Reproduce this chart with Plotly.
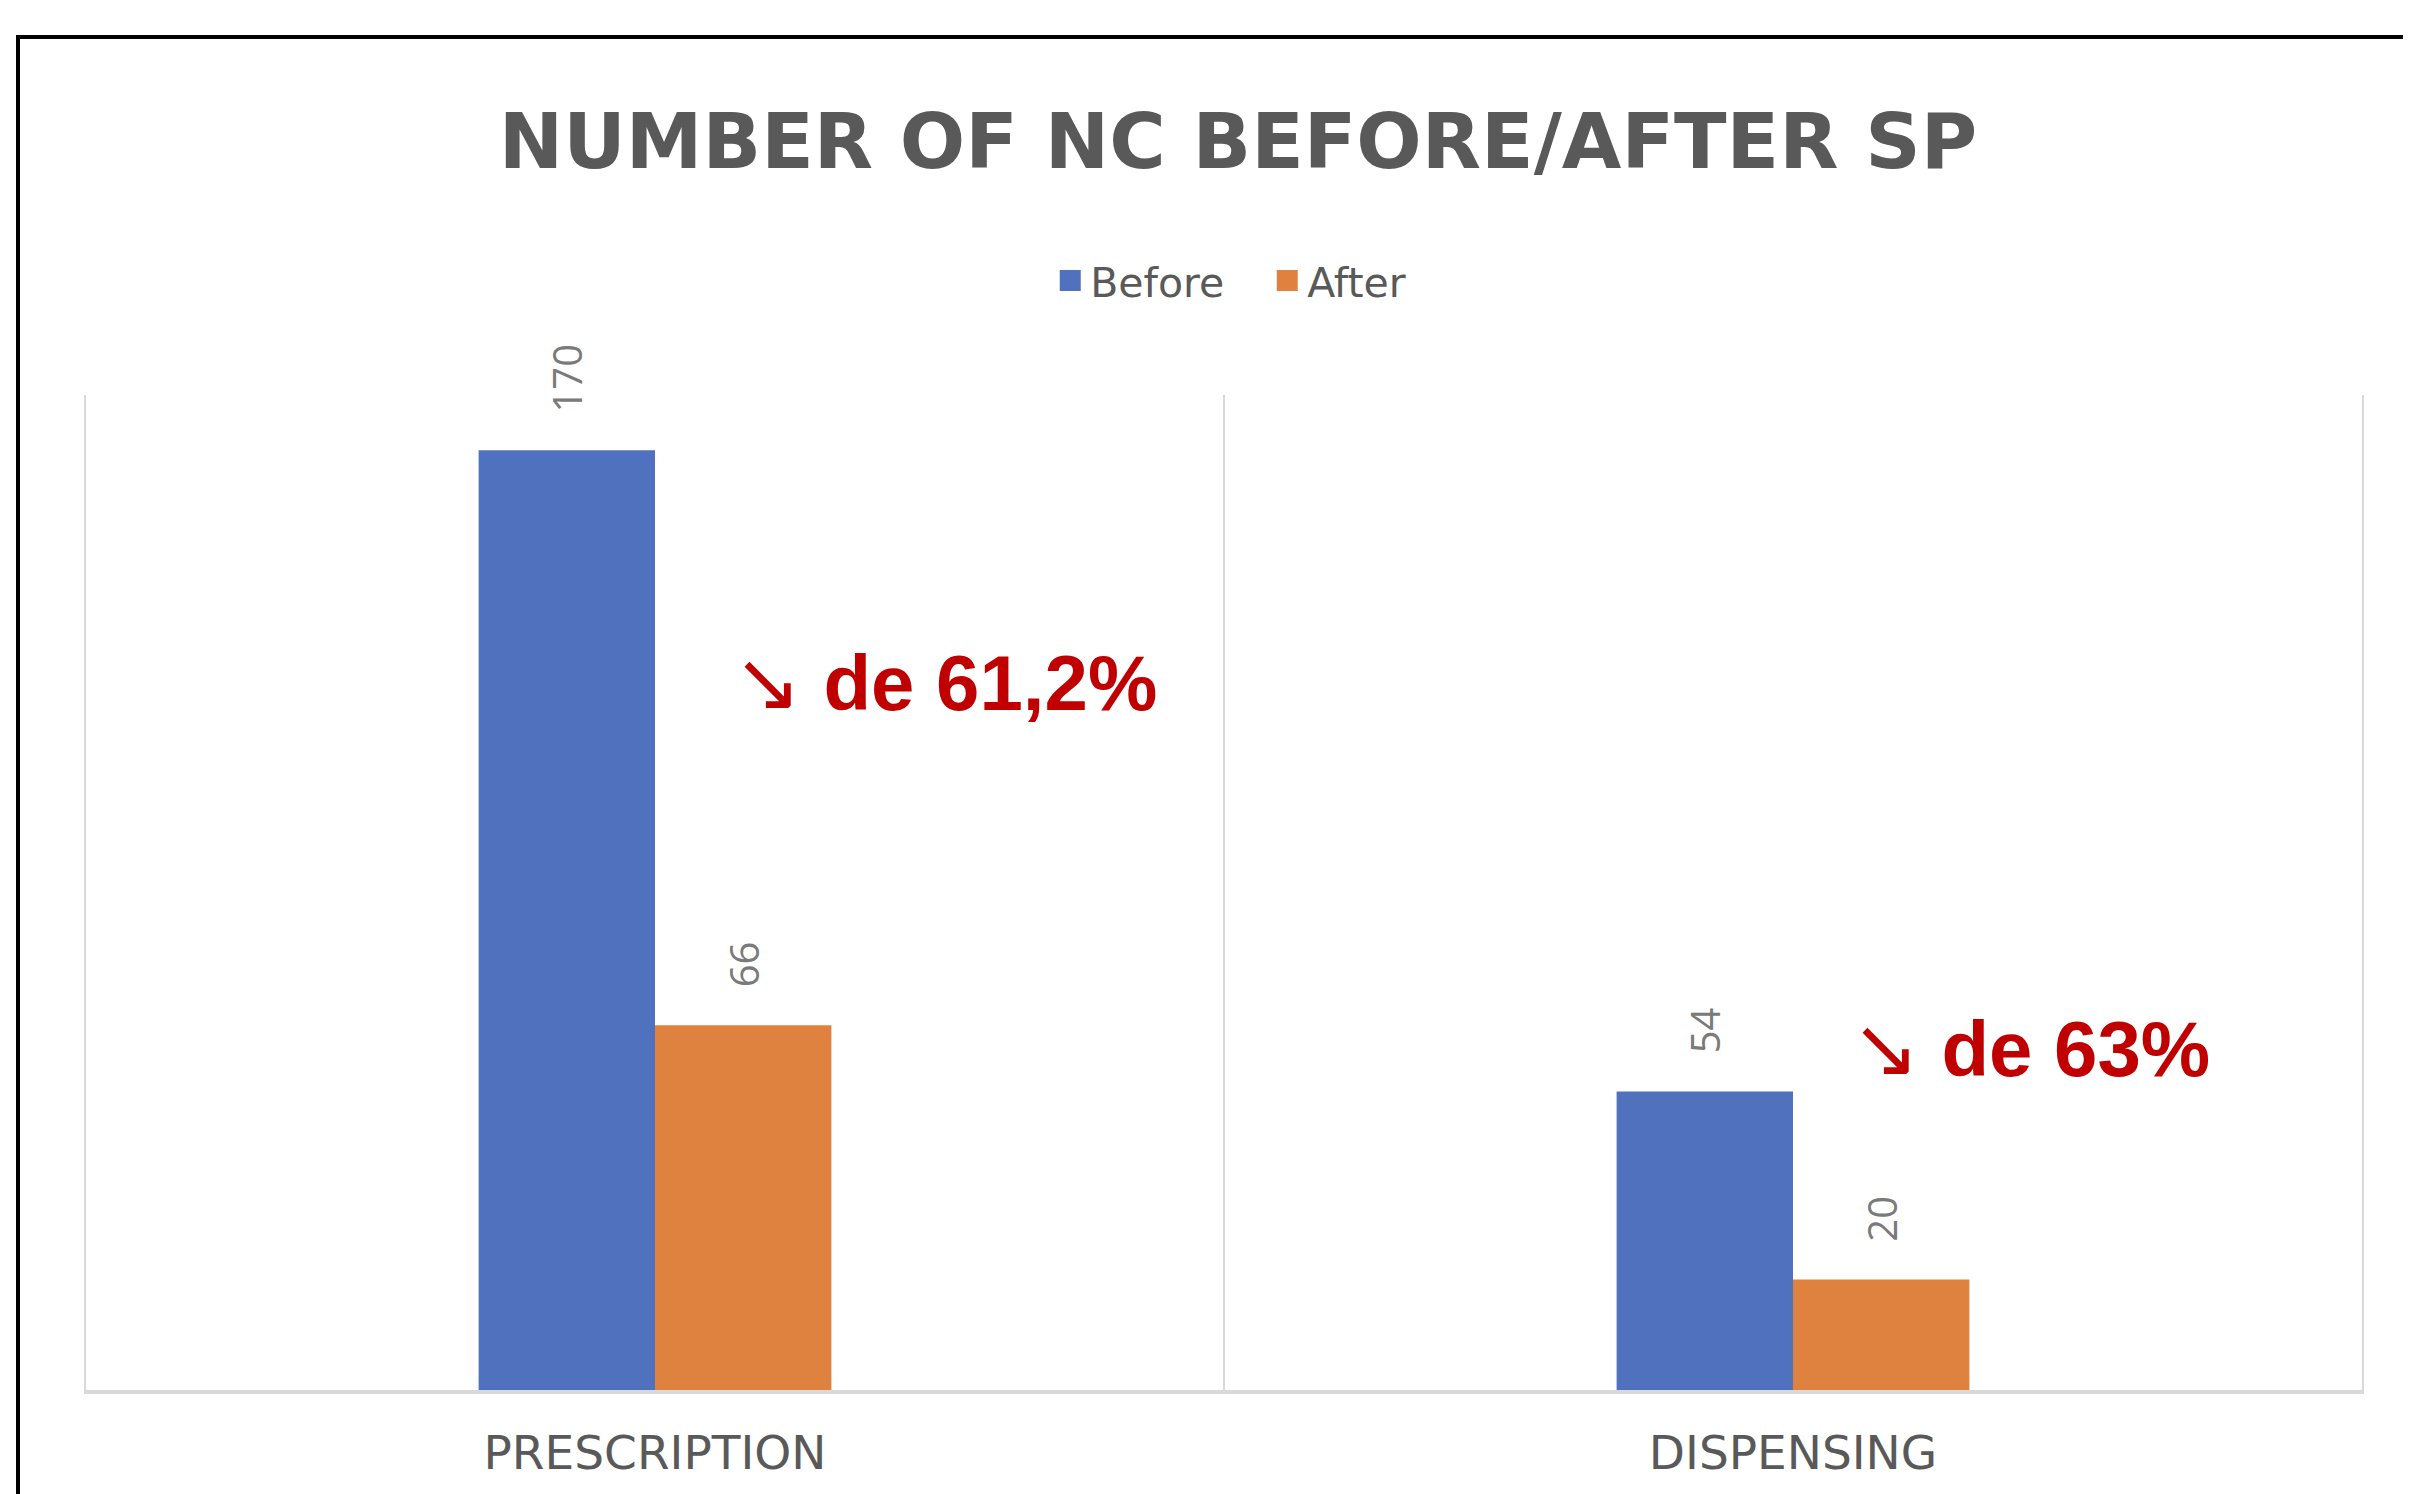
import plotly.graph_objects as go

categories = ["PRESCRIPTION", "DISPENSING"]
before_values = [170, 54]
after_values = [66, 20]
series_names = ["Before", "After"]
reduction_labels = ["de 61,2%", "de 63%"]

# page has an 8px body margin, so the figure is 8px smaller than the window
W, H = 2403, 1486
OFF = 8
BLUE = "#4F71BE"
ORANGE = "#E0823F"
GRAY_TXT = "#595959"
LABEL_GRAY = "#7a7a7a"
GRID = "#d9d9d9"
RED = "#C00000"

BARGAP = 0.69
bar_w = (1 - BARGAP) / 2

fig = go.Figure()
for name, vals, col in ((series_names[0], before_values, BLUE),
                        (series_names[1], after_values, ORANGE)):
    fig.add_trace(go.Bar(name=name, x=categories, y=vals, legendgroup=name,
                         showlegend=False, marker=dict(color=col, line=dict(width=0))))
# legend entries with larger square swatches (no marks drawn)
for name, col in ((series_names[0], BLUE), (series_names[1], ORANGE)):
    fig.add_trace(go.Scatter(name=name, x=[None], y=[None], mode="markers",
                             legendgroup=name, showlegend=True,
                             marker=dict(symbol="square", size=16, color=col,
                                         line=dict(color=col, width=5))))

annotations = []
for i, cat in enumerate(categories):
    for vals, off in ((before_values, -bar_w / 2), (after_values, bar_w / 2)):
        annotations.append(dict(
            x=i + off, y=vals[i], xref="x", yref="y",
            text=str(vals[i]), showarrow=False, textangle=-90,
            xanchor="center", yanchor="bottom", yshift=36,
            font=dict(family="Open Sans", size=40, color=LABEL_GRAY)))

callout_pos = [(0.067, 128.2), (1.049, 62.0)]
for (cx, cy), txt in zip(callout_pos, reduction_labels):
    annotations.append(dict(
        x=cx, y=cy, xref="x", yref="y", showarrow=False,
        xanchor="left", yanchor="middle",
        text="<span style=\"font-size:82px;font-family:DejaVu Sans;font-weight:normal\">↘</span> " + txt,
        font=dict(family="Liberation Sans", size=78, color=RED, weight="bold")))

fig.update_layout(
    width=W, height=H,
    margin=dict(l=86 - OFF, r=49, t=395 - OFF, b=104, pad=0),
    paper_bgcolor="white", plot_bgcolor="white",
    barmode="group", bargap=BARGAP, bargroupgap=0,
    title=dict(text="NUMBER OF NC BEFORE/AFTER SP", x=(1238 - OFF) / W, xanchor="center",
               y=1 - (141 - OFF) / H, yanchor="middle", xref="container", yref="container",
               font=dict(family="DejaVu Sans", size=77, color=GRAY_TXT, weight="bold")),
    legend=dict(orientation="h", x=0.519, xanchor="center", y=1.1146, yanchor="middle",
                font=dict(family="DejaVu Sans", size=41, color=GRAY_TXT),
                bgcolor="rgba(0,0,0,0)", itemwidth=30, traceorder="normal",
                entrywidth=172, entrywidthmode="pixels"),
    xaxis=dict(range=[-0.5, 1.5], showgrid=True, gridcolor=GRID, gridwidth=2,
               tickson="boundaries", ticks="", showline=True, linecolor=GRID, linewidth=4,
               tickfont=dict(family="DejaVu Sans", size=47, color=GRAY_TXT),
               ticklabelstandoff=19, zeroline=False, fixedrange=True),
    yaxis=dict(range=[0, 180], showgrid=False, zeroline=False, showticklabels=False,
               ticks="", showline=True, linecolor=GRID, linewidth=2, mirror=True,
               fixedrange=True),
    annotations=annotations,
    shapes=[dict(type="rect", xref="paper", yref="paper",
                 x0=(18 - 86) / 2276, x1=(2440 - 86) / 2276,
                 y0=(1390 - 1520) / 995, y1=(1390 - 37) / 995,
                 line=dict(color="black", width=4), fillcolor="rgba(0,0,0,0)")],
)

fig.write_html("out.html")
